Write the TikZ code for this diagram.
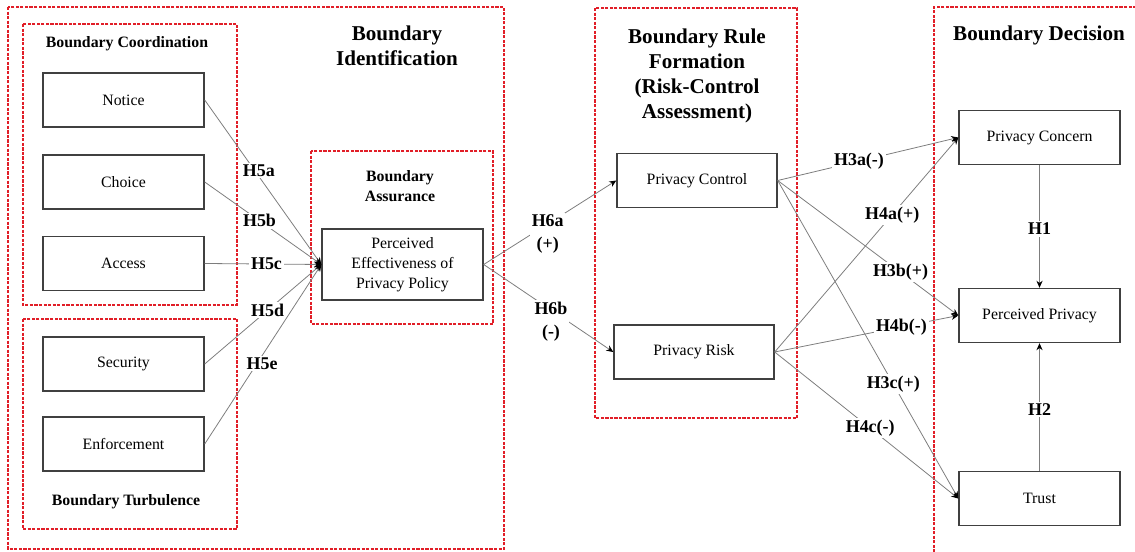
\documentclass[tikz,border=0pt]{standalone}
\usepackage{fontspec}
\setmainfont{Liberation Serif}
\usetikzlibrary{arrows.meta,positioning}
\definecolor{bdred}{RGB}{225,30,40}
\definecolor{lngray}{RGB}{125,125,125}
\begin{document}
\begin{tikzpicture}[every node/.style={font=\fontsize{9}{11.3}\selectfont},
  bx/.style={draw=black!75, line width=0.8pt, minimum width=3.22cm, minimum height=1.08cm, align=center, inner sep=1pt},
  grp/.style={draw=bdred, dash pattern=on 1.8pt off 0.8pt, line width=0.6pt},
  ttl/.style={font=\fontsize{12}{14.2}\selectfont\bfseries, align=center},
  grplabel/.style={font=\fontsize{9}{11.3}\selectfont\bfseries, align=center},
  hyp/.style={font=\fontsize{10.2}{13}\selectfont\bfseries, fill=white, inner sep=1pt, align=center},
  lnk/.style={draw=lngray, line width=0.45pt, -{Stealth[length=4pt,width=3.5pt,black]}}]
\useasboundingbox (0,0) rectangle (22.7,-11.04);
\clip (0,0) rectangle (22.7,-11.04);
% Groups
\draw[grp] (0.16,-0.14) rectangle (10.08,-10.98);
\draw[grp] (0.46,-0.48) rectangle (4.74,-6.10);
\draw[grp] (0.46,-6.38) rectangle (4.74,-10.58);
\draw[grp] (6.22,-3.02) rectangle (9.86,-6.48);
\draw[grp] (11.90,-0.16) rectangle (15.94,-8.36);
\draw[grp] (23,-0.14) -- (18.68,-0.14) -- (18.68,-11.5);
% Titles
\node[ttl] (tident) at (7.94,-0.91) {Boundary\\Identification};
\node[ttl] (trule) at (13.94,-1.52) {Boundary Rule\\Formation\\(Risk-Control\\Assessment)};
\node[ttl] (tdec) at (20.78,-0.70) {Boundary Decision};
\node[grplabel] (tcoord) at (2.54,-0.88) {Boundary Coordination};
\node[grplabel] (tturb) at (2.52,-10.04) {Boundary Turbulence};
\node[grplabel] (tassur) at (8.00,-3.72) {Boundary\\Assurance};
% Boxes
\node[bx] (notice) at (2.47,-2.00) {Notice};
\node[bx] (choice) at (2.47,-3.64) {Choice};
\node[bx] (access) at (2.47,-5.27) {Access};
\node[bx] (security) at (2.47,-7.28) {Security};
\node[bx] (enforce) at (2.47,-8.88) {Enforcement};
\node[bx, minimum height=1.42cm] (pe) at (8.05,-5.29) {Perceived\\Effectiveness of\\Privacy Policy};
\node[bx, minimum width=3.2cm] (pcontrol) at (13.94,-3.61) {Privacy Control};
\node[bx, minimum width=3.2cm] (prisk) at (13.88,-7.04) {Privacy Risk};
\node[bx] (pconcern) at (20.79,-2.75) {Privacy Concern};
\node[bx] (pprivacy) at (20.79,-6.31) {Perceived Privacy};
\node[bx] (trust) at (20.79,-9.97) {Trust};
% Arrows
\draw[lnk] (notice.east) -- node[hyp, pos=.43, xshift=0.08cm] {H5a} (pe.west);
\draw[lnk] (choice.east) -- node[hyp, pos=.47] {H5b} (pe.west);
\draw[lnk] (access.east) -- node[hyp, pos=.53] {H5c} (pe.west);
\draw[lnk] (security.east) -- node[hyp, pos=.54] {H5d} (pe.west);
\draw[lnk] (enforce.east) -- node[hyp, pos=.45, xshift=0.1cm] {H5e} (pe.west);
\draw[lnk] (pe.east) -- node[hyp, pos=.46, yshift=-0.16cm, xshift=0.06cm] {H6a\\(+)} (pcontrol.west);
\draw[lnk] (pe.east) -- node[hyp, pos=.55, yshift=-0.18cm, xshift=-0.08cm] {H6b\\(-)} (prisk.west);
\draw[lnk] (pcontrol.east) -- node[hyp, pos=.45] {H3a(-)} (pconcern.west);
\draw[lnk] (pcontrol.east) -- node[hyp, pos=.68] {H3b(+)} (pprivacy.west);
\draw[lnk] (pcontrol.east) -- node[hyp, pos=.64] {H3c(+)} (trust.west);
\draw[lnk] (prisk.east) -- node[hyp, pos=.64] {H4a(+)} (pconcern.west);
\draw[lnk] (prisk.east) -- node[hyp, pos=.69] {H4b(-)} (pprivacy.west);
\draw[lnk] (prisk.east) -- node[hyp, pos=.52] {H4c(-)} (trust.west);
\draw[lnk] (pconcern.south) -- node[hyp, pos=.52] {H1} (pprivacy.north);
\draw[lnk] (trust.north) -- node[hyp, pos=.48] {H2} (pprivacy.south);
\end{tikzpicture}
\end{document}
